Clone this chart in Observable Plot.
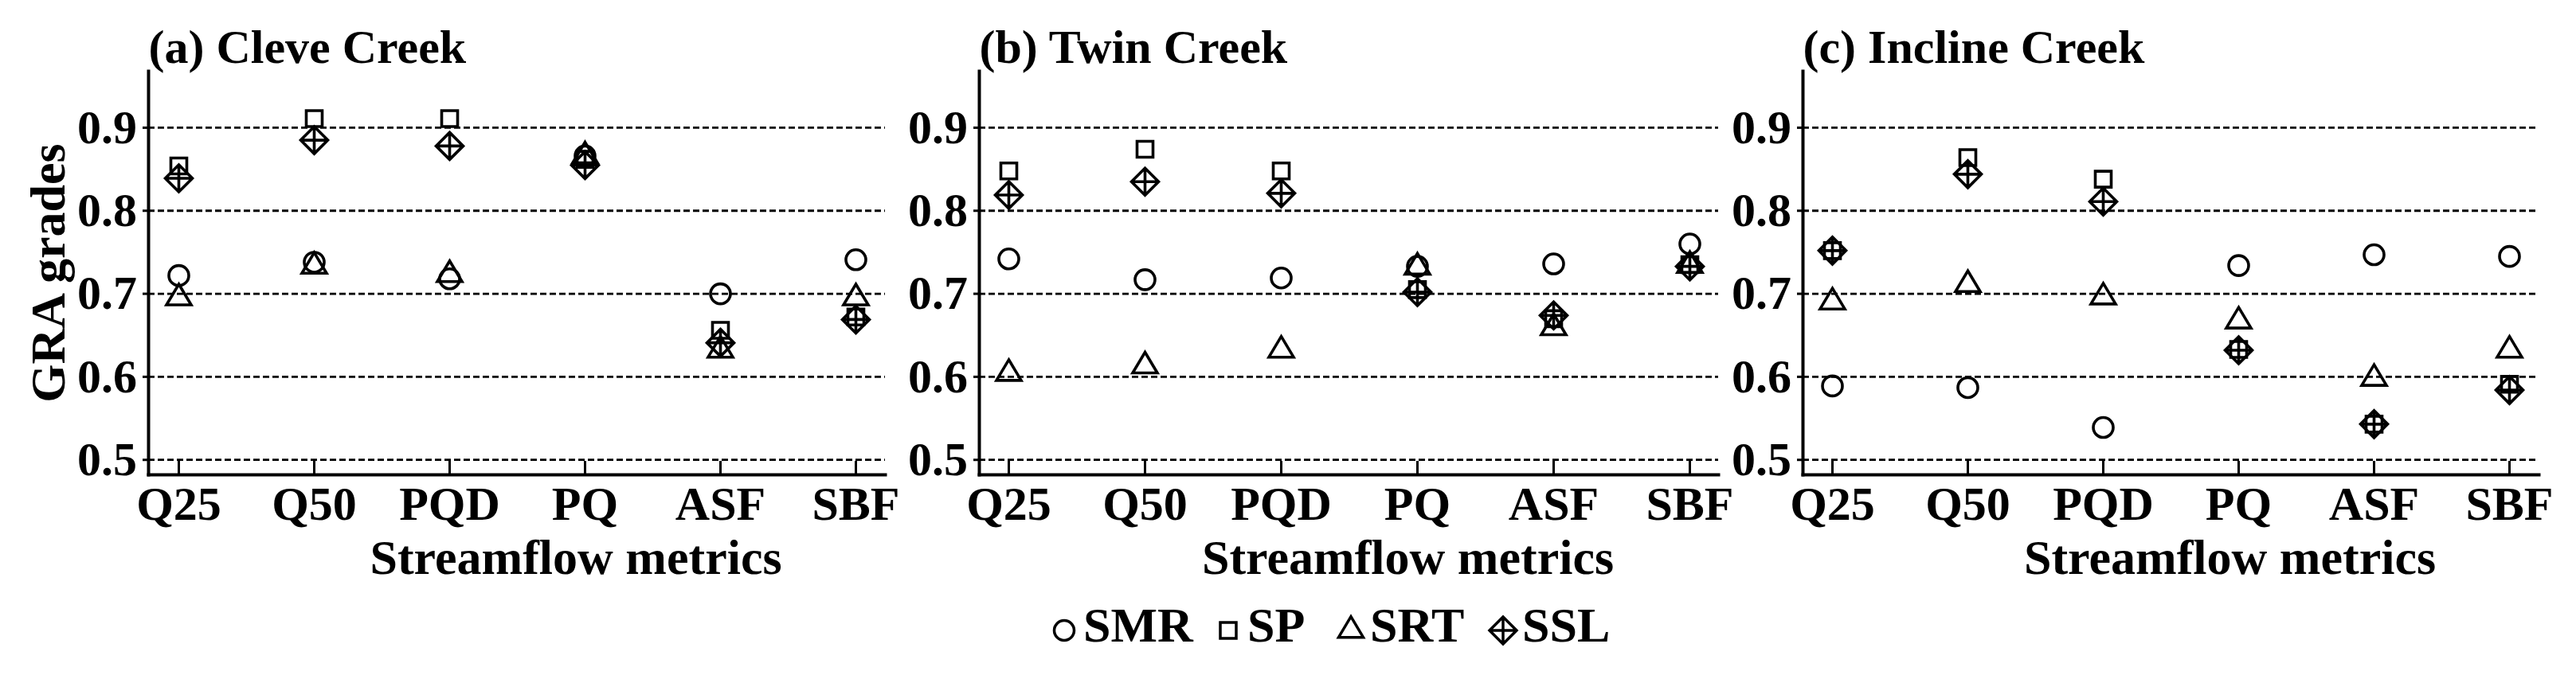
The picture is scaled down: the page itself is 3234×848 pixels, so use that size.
<!DOCTYPE html>
<html>
<head>
<meta charset="utf-8">
<script src="https://cdn.jsdelivr.net/npm/d3@7"></script>
<script src="https://cdn.jsdelivr.net/npm/@observablehq/plot@0.6"></script>
<style>
html, body { margin: 0; padding: 0; background: #fff; }
#chart { position: relative; width: 3234px; height: 848px; overflow: hidden; background: #fff; }
#chart .panel { position: absolute; top: 0; }
#legend { position: absolute; left: 0; top: 0; }
</style>
</head>
<body>
<div id="chart"></div>
<script>
// ---------- data ----------
const metrics = ["Q25", "Q50", "PQD", "PQ", "ASF", "SBF"];
const seriesNames = ["SMR", "SP", "SRT", "SSL"];
const panelTitles = ["(a) Cleve Creek", "(b) Twin Creek", "(c) Incline Creek"];
const xLabel = "Streamflow metrics";
const yLabel = "GRA grades";
const yTicks = [0.5, 0.6, 0.7, 0.8, 0.9];
const yDomain = [0.482, 0.968];

const cleveSMR = [0.722, 0.738, 0.718, 0.866, 0.700, 0.741];
const cleveSP  = [0.854, 0.911, 0.911, 0.862, 0.656, 0.672];
const cleveSRT = [0.695, 0.733, 0.723, 0.866, 0.632, 0.695];
const cleveSSL = [0.839, 0.885, 0.878, 0.855, 0.641, 0.669];

const twinSMR = [0.742, 0.717, 0.719, 0.733, 0.736, 0.760];
const twinSP  = [0.848, 0.874, 0.848, 0.705, 0.670, 0.735];
const twinSRT = [0.604, 0.613, 0.632, 0.732, 0.659, 0.734];
const twinSSL = [0.819, 0.835, 0.821, 0.702, 0.674, 0.733];

const inclineSMR = [0.589, 0.587, 0.539, 0.734, 0.747, 0.745];
const inclineSP  = [0.752, 0.864, 0.838, 0.633, 0.543, 0.591];
const inclineSRT = [0.690, 0.711, 0.696, 0.667, 0.598, 0.632];
const inclineSSL = [0.752, 0.844, 0.811, 0.632, 0.543, 0.584];

const creekSeries = [
  {SMR: cleveSMR, SP: cleveSP, SRT: cleveSRT, SSL: cleveSSL},
  {SMR: twinSMR, SP: twinSP, SRT: twinSRT, SSL: twinSSL},
  {SMR: inclineSMR, SP: inclineSP, SRT: inclineSRT, SSL: inclineSSL}
];

// ---------- symbols (R pch 1, 0, 2, 9) ----------
const symbols = {
  SMR: {draw(c) { const r = 12.5; c.moveTo(r, 0); c.arc(0, 0, r, 0, 2 * Math.PI); c.closePath(); }},
  SP:  {draw(c) { const s = 10; c.moveTo(-s, -s); c.lineTo(s, -s); c.lineTo(s, s); c.lineTo(-s, s); c.closePath(); }},
  SRT: {draw(c) { const h = 26, w = 15.5; c.moveTo(0, -2 * h / 3); c.lineTo(w, h / 3); c.lineTo(-w, h / 3); c.closePath(); }},
  SSL: {draw(c) { const d = 17; c.moveTo(0, -d); c.lineTo(d, 0); c.lineTo(0, d); c.lineTo(-d, 0); c.closePath();
                  c.moveTo(0, -d); c.lineTo(0, d); c.moveTo(-d, 0); c.lineTo(d, 0); }}
};

const FONT = '"Liberation Serif", "Times New Roman", serif';
const chart = document.getElementById("chart");

// layout: frame left edge and frame width for each panel
const frameLefts = [186, 1229, 2263];
const frameWidths = [925, 928, 924];
const mL = 186, mT = 89, mB = 144, mR = 24, fH = 507;

panelTitles.forEach((title, k) => {
  const rows = [];
  seriesNames.forEach(s => {
    creekSeries[k][s].forEach((v, i) => rows.push({metric: metrics[i], series: s, value: v}));
  });
  const marks = [
    Plot.gridY(yTicks, {stroke: "#000", strokeOpacity: 1, strokeWidth: 2.8, strokeDasharray: "8,4"}),
    Plot.axisY(yTicks, {tickSize: 7, tickPadding: 7.5, fontSize: 60, fontWeight: "bold", label: null,
                        strokeWidth: 3, tickFormat: d => d.toFixed(1), fill: "#000"}),
    Plot.axisX({tickSize: 0, tickPadding: 13.5, fontSize: 60, fontWeight: "bold", label: null, fill: "#000"}),
    Plot.tickX(metrics, {x: d => d, insetTop: fH - 17, strokeWidth: 3, stroke: "#000"}),
    Plot.frame({anchor: "left", strokeWidth: 4, stroke: "#000"}),
    Plot.frame({anchor: "bottom", strokeWidth: 4, stroke: "#000"}),
    ...seriesNames.map(s => Plot.dot(rows.filter(d => d.series === s), {
      x: "metric", y: "value", symbol: symbols[s], r: 10,
      stroke: "#000", strokeWidth: 3.6, fill: "none", strokeLinejoin: "miter"
    })),
    Plot.text([title], {text: d => d, frameAnchor: "top-left", dy: -11, lineAnchor: "bottom",
                        textAnchor: "start", fontSize: 60, fontWeight: "bold", fill: "#000"}),
    Plot.text([xLabel], {text: d => d, frameAnchor: "bottom", dx: 74, dy: 124, lineAnchor: "bottom",
                         textAnchor: "middle", fontSize: 62, fontWeight: "bold", fill: "#000"})
  ];
  if (k === 0) {
    marks.push(Plot.text([yLabel], {text: d => d, frameAnchor: "left", rotate: -90, dx: -106,
                                    textAnchor: "middle", lineAnchor: "bottom",
                                    fontSize: 62, fontWeight: "bold", fill: "#000"}));
  }
  const svg = Plot.plot({
    width: mL + frameWidths[k] + mR,
    height: mT + fH + mB,
    marginLeft: mL, marginRight: mR, marginTop: mT, marginBottom: mB,
    style: {background: "transparent", overflow: "visible", fontFamily: FONT, maxWidth: "none", color: "#000"},
    x: {type: "point", domain: metrics, padding: 0.205},
    y: {domain: yDomain},
    marks
  });
  svg.classList.add("panel");
  svg.style.left = (frameLefts[k] - mL) + "px";
  chart.appendChild(svg);
});

// ---------- legend ----------
const legendX = [1336, 1542, 1696, 1887];
const legend = d3.select(chart).append("svg")
  .attr("id", "legend").attr("width", 3234).attr("height", 848)
  .style("font-family", FONT);
seriesNames.forEach((s, i) => {
  const p = d3.path();
  symbols[s].draw(p);
  legend.append("path")
    .attr("d", p.toString())
    .attr("transform", `translate(${legendX[i]},792)`)
    .attr("fill", "none").attr("stroke", "#000").attr("stroke-width", 3.5).attr("stroke-linejoin", "miter");
  legend.append("text")
    .attr("x", legendX[i] + 24).attr("y", 806)
    .attr("font-size", 62).attr("font-weight", "bold").attr("fill", "#000")
    .text(s);
});
</script>
</body>
</html>
